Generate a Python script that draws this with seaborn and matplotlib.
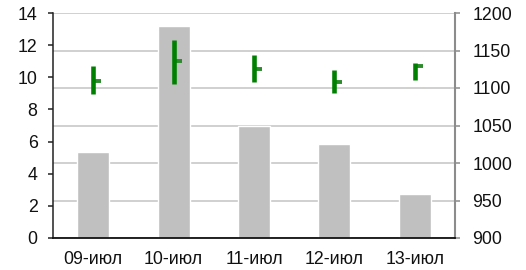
import matplotlib
matplotlib.use("Agg")
import matplotlib.pyplot as plt
import seaborn as sns
import numpy as np
import pandas as pd

dates = ["09-июл", "10-июл", "11-июл", "12-июл", "13-июл"]
volume = [5.35, 13.2, 7.0, 5.85, 2.75]
high = [1129, 1164, 1144, 1124, 1133]
low = [1092, 1106, 1108, 1093, 1111]
close = [1109, 1136, 1125, 1108, 1130]

left_ticks = [0, 2, 4, 6, 8, 10, 12, 14]
right_ticks = [900, 950, 1000, 1050, 1100, 1150, 1200]

sns.set_style("white")
plt.rcParams['font.family'] = ['Liberation Sans', 'DejaVu Sans']
plt.rcParams['font.size'] = 12.8

df = pd.DataFrame({"date": dates, "volume": volume})

fig = plt.figure(figsize=(5.26, 2.7), dpi=100)
ax = fig.add_axes([53/526, 1-238/270, (455-53)/526, 225/270])
axr = ax.twinx()
axo = ax.twinx()

axr.set_zorder(0)
ax.set_zorder(1)
axo.set_zorder(2)
ax.patch.set_visible(False)
axo.patch.set_visible(False)
axr.patch.set_facecolor("white")

# bars (left scale)
sns.barplot(data=df, x="date", y="volume", ax=ax, color="#C0C0C0",
            width=0.4, saturation=1)
ax.set_xlim(-0.5, len(dates) - 0.5)
ax.set_ylim(0, 14)
ax.set_yticks(left_ticks)
ax.set_xlabel("")
ax.set_ylabel("")
ax.yaxis.set_ticks_position("left")
ax.tick_params(axis="y", length=3.6, width=1.1, color="#222222", pad=7.5,
               labelsize=12.8, labelcolor="#111111")
ax.tick_params(axis="x", length=0, pad=9.5, labelsize=12.8, labelcolor="#111111")
for s in ["top", "right"]:
    ax.spines[s].set_visible(False)
ax.spines["left"].set_color("#222222")
ax.spines["left"].set_linewidth(1.1)
ax.spines["bottom"].set_color("#111111")
ax.spines["bottom"].set_linewidth(1.3)

# right axis with grid
axr.set_ylim(900, 1200)
axr.set_yticks(right_ticks)
axr.yaxis.grid(True, color="#CDCDCD", linewidth=1.3)
axr.tick_params(axis="y", length=3.6, width=1.1, color="#8C8C8C", pad=9,
                labelsize=12.8, labelcolor="#111111")
for s in ["top", "left", "bottom"]:
    axr.spines[s].set_visible(False)
axr.spines["right"].set_color("#8C8C8C")
axr.spines["right"].set_linewidth(1.5)

# OHLC-like marks (right scale)
axo.set_ylim(900, 1200)
axo.axis("off")
x = np.arange(len(dates))
axo.hlines(close, x, x + 0.1, colors="#2d8a2d", linewidth=2.8)
axo.vlines(x, low, high, colors="#008000", linewidth=3.3)

fig.savefig("out.png", dpi=100)
